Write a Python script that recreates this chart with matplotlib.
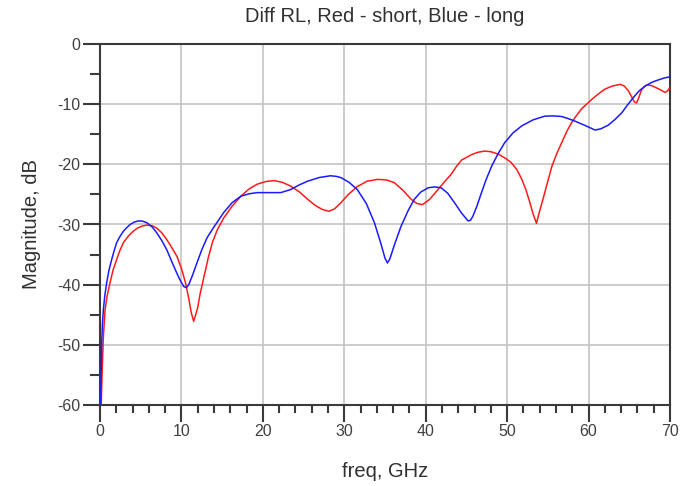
import matplotlib
matplotlib.use("Agg")
import matplotlib.pyplot as plt
from matplotlib.ticker import MultipleLocator

plt.rcParams['font.family'] = ['Liberation Sans', 'DejaVu Sans']
plt.rcParams['axes.unicode_minus'] = False

red_f = [0.15, 0.25, 0.4, 0.62, 0.9, 1.23, 1.6, 2.05, 2.45, 2.88, 3.5, 4.1, 4.6, 5.2, 5.75,
         6.4, 6.98, 7.6, 8.2, 8.8, 9.45, 10.0, 10.5, 10.9, 11.2, 11.5, 11.75, 12.0, 12.3, 12.8,
         13.3, 13.8, 14.4, 15.2, 16.2, 17.3, 18.3, 19.3, 20.4, 21.4, 22.4, 23.4, 24.5, 25.5,
         26.4, 27.3, 28.1, 28.8, 29.58, 30.5, 31.6, 32.8, 34.1, 35.2, 36.15, 37.2, 38.2, 38.9,
         39.6, 40.5, 41.5, 42.3, 43.1, 43.8, 44.4, 45.6, 46.4, 47.2, 48.0, 48.9, 49.8, 50.5,
         51.2, 51.8, 52.3, 52.8, 53.2, 53.6, 53.9, 54.4, 55.0, 55.5, 56.1, 56.7, 57.3, 57.9,
         58.5, 59.2, 60.4, 61.2, 62.0, 62.9, 63.9, 64.4, 64.9, 65.3, 65.6, 65.9, 66.2, 66.5,
         66.9, 67.2, 67.7, 68.2, 68.8, 69.4, 69.7, 70.0]
red_db = [-60, -55, -49, -44.2, -41.7, -39.7, -37.6, -35.8, -34.3, -33.0, -31.9, -31.1, -30.6, -30.25, -30.1,
          -30.2, -30.6, -31.4, -32.5, -33.8, -35.3, -37.3, -39.7, -42.3, -44.6, -46.1, -45.0, -43.8, -41.5, -38.5,
          -35.5, -33.0, -30.9, -28.9, -27.0, -25.3, -24.1, -23.3, -22.85, -22.7, -23.0, -23.6, -24.6, -25.8,
          -26.8, -27.5, -27.8, -27.4, -26.4, -25.0, -23.7, -22.8, -22.5, -22.6, -23.05, -24.3, -25.8, -26.5,
          -26.7, -25.8, -24.2, -22.9, -21.7, -20.3, -19.3, -18.4, -18.0, -17.8, -17.9, -18.3, -19.0, -19.7,
          -20.9, -22.5, -24.2, -26.4, -28.3, -29.8, -28.2, -25.8, -22.8, -20.3, -18.2, -16.4, -14.6, -13.1,
          -11.9, -10.7, -9.2, -8.3, -7.5, -7.0, -6.7, -7.0, -7.8, -8.8, -9.6, -9.8, -8.8, -7.6,
          -7.0, -6.8, -6.9, -7.2, -7.6, -8.05, -7.8, -7.2]

blue_f = [0.08, 0.15, 0.2, 0.3, 0.41, 0.6, 0.82, 1.1, 1.44, 1.75, 2.05, 2.45, 2.88, 3.3, 3.7,
          4.2, 4.72, 5.25, 5.75, 6.4, 6.98, 7.6, 8.2, 8.7, 9.24, 9.75, 10.27, 10.6, 10.9, 11.4,
          11.9, 12.5, 13.15, 13.9, 14.6, 15.2, 16.2, 17.3, 18.3, 19.3, 20.7, 22.2, 23.4, 24.5,
          25.5, 26.9, 28.3, 29.0, 29.58, 30.6, 31.6, 32.7, 33.7, 34.5, 35.0, 35.3, 35.6, 36.2,
          36.97, 37.8, 38.6, 39.4, 40.3, 41.1, 41.9, 42.7, 43.55, 44.4, 45.2, 45.5, 45.8, 46.3,
          46.8, 47.4, 48.1, 48.9, 49.7, 50.7, 51.8, 53.2, 54.6, 55.6, 56.7, 57.5, 58.3, 59.5,
          60.8, 61.5, 62.4, 63.2, 64.1, 64.8, 65.5, 66.2, 67.0, 67.8, 68.6, 69.3, 70.0]
blue_db = [-60, -54, -50, -46.5, -44.2, -41.7, -39.7, -37.6, -35.8, -34.3, -33.0, -32.0, -31.1, -30.5, -30.0,
           -29.6, -29.4, -29.45, -29.7, -30.4, -31.4, -32.7, -34.2, -35.8, -37.5, -39.0, -40.3, -40.5, -40.0, -38.3,
           -36.4, -34.2, -32.2, -30.6, -29.2, -28.0, -26.4, -25.3, -24.9, -24.7, -24.7, -24.7, -24.2, -23.4,
           -22.8, -22.2, -21.9, -22.0, -22.2, -23.0, -24.2, -26.5, -29.7, -33.2, -35.6, -36.4, -35.7, -33.2,
           -30.3, -27.8, -25.8, -24.6, -23.9, -23.75, -23.9, -24.8, -26.4, -28.1, -29.4, -29.3, -28.6, -26.9,
           -24.9, -22.6, -20.3, -18.2, -16.4, -14.8, -13.6, -12.6, -12.0, -11.95, -12.05, -12.4, -12.8, -13.5,
           -14.3, -14.1, -13.5, -12.6, -11.4, -10.1, -8.9, -7.8, -6.95, -6.35, -5.95, -5.65, -5.45]

title = "Diff RL, Red - short, Blue - long"
xlabel = "freq, GHz"
ylabel = "Magnitude, dB"

fig = plt.figure(figsize=(6.8, 4.86), dpi=100)
ax = fig.add_axes([100/680, 1-405/486, 570/680, 361/486])

ax.plot(red_f, red_db, color='#ff1a1a', lw=1.1, zorder=3)
ax.plot(blue_f, blue_db, color='#1a1aff', lw=1.1, zorder=4)

ax.set_xlim(0, 70)
ax.set_ylim(-60, 0)
ax.xaxis.set_major_locator(MultipleLocator(10))
ax.xaxis.set_minor_locator(MultipleLocator(2))
ax.yaxis.set_major_locator(MultipleLocator(10))
ax.yaxis.set_minor_locator(MultipleLocator(5))
ax.grid(True, which='major', color='#c4c4c4', lw=1.2, zorder=0)

dark = '#3a3a3a'
for s in ax.spines.values():
    s.set_color(dark)
    s.set_linewidth(1.5)
ax.tick_params(axis='both', which='major', direction='out', length=12, width=1.5,
               color=dark, labelcolor='#404040', labelsize=11.5, pad=2)
ax.tick_params(axis='x', which='minor', direction='out', length=6, width=1.5, color=dark)
ax.tick_params(axis='y', which='minor', direction='out', length=7, width=1.5, color=dark)

ax.set_title(title, fontsize=14.5, color='#303030', pad=16)
ax.set_xlabel(xlabel, fontsize=14.5, color='#303030', labelpad=16)
ax.set_ylabel(ylabel, fontsize=14.5, color='#303030', labelpad=12)

fig.savefig("out.png", dpi=100)
